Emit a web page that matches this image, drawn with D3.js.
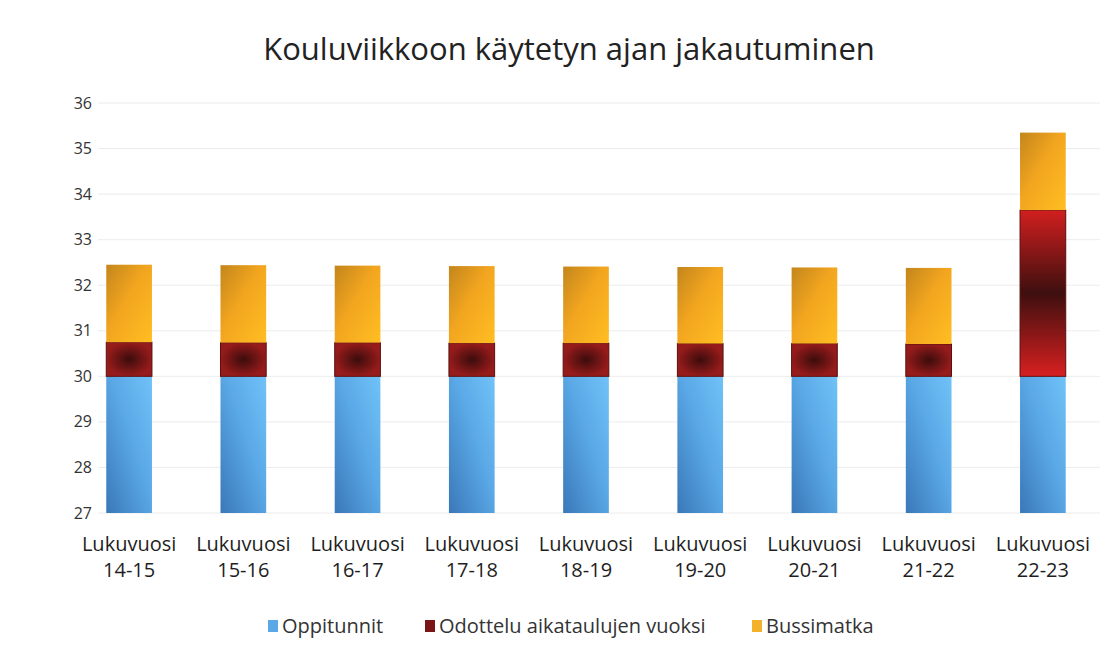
<!DOCTYPE html>
<html>
<head>
<meta charset="utf-8">
<script src="https://cdn.jsdelivr.net/npm/d3@7"></script>
<style>
  body { margin: 0; background: #fff; }
  svg { font-family: "Open Sans", "Liberation Sans", sans-serif; }
</style>
</head>
<body>
<div id="chart"></div>
<script>
var years = ["14-15", "15-16", "16-17", "17-18", "18-19", "19-20", "20-21", "21-22", "22-23"];
var oppitunnit = [30, 30, 30, 30, 30, 30, 30, 30, 30];
var odottelu = [0.75, 0.74, 0.74, 0.73, 0.73, 0.72, 0.72, 0.71, 3.65];
var bussimatka = [1.7, 1.7, 1.69, 1.69, 1.68, 1.68, 1.67, 1.67, 1.7];
var seriesNames = ["Oppitunnit", "Odottelu aikataulujen vuoksi", "Bussimatka"];
var yTicks = [27, 28, 29, 30, 31, 32, 33, 34, 35, 36];

var w = 1118, h = 657;
var svg = d3.select("#chart").append("svg").attr("width", w).attr("height", h);

// gradients
var defs = svg.append("defs");
var gBlue = defs.append("linearGradient").attr("id", "gBlue")
  .attr("x1", 0).attr("y1", 1).attr("x2", 1).attr("y2", 0);
gBlue.append("stop").attr("offset", "0%").attr("stop-color", "#3a78b8");
gBlue.append("stop").attr("offset", "55%").attr("stop-color", "#5aa8e6");
gBlue.append("stop").attr("offset", "100%").attr("stop-color", "#70c2f8");

var gYel = defs.append("linearGradient").attr("id", "gYel")
  .attr("x1", 0).attr("y1", 0).attr("x2", 1).attr("y2", 1);
gYel.append("stop").attr("offset", "0%").attr("stop-color", "#c3861c");
gYel.append("stop").attr("offset", "45%").attr("stop-color", "#f2a51f");
gYel.append("stop").attr("offset", "100%").attr("stop-color", "#ffbe22");

var gRedS = defs.append("radialGradient").attr("id", "gRedS");
gRedS.append("stop").attr("offset", "0%").attr("stop-color", "#3c0c0c");
gRedS.append("stop").attr("offset", "100%").attr("stop-color", "#961b1b");

var gRedL = defs.append("linearGradient").attr("id", "gRedL")
  .attr("x1", 0).attr("y1", 0).attr("x2", 0).attr("y2", 1);
gRedL.append("stop").attr("offset", "0%").attr("stop-color", "#d21f1f");
gRedL.append("stop").attr("offset", "50%").attr("stop-color", "#3e0f0f");
gRedL.append("stop").attr("offset", "100%").attr("stop-color", "#d82020");

var x = d3.scaleBand().domain(years).range([72, 1100]).paddingInner(0.6).paddingOuter(0.3);
var y = d3.scaleLinear().domain([27, 36]).range([513, 103]);

// gridlines
svg.append("g").selectAll("line").data(yTicks).enter().append("line")
  .attr("x1", 98).attr("x2", 1100)
  .attr("y1", function (d) { return y(d); }).attr("y2", function (d) { return y(d); })
  .attr("stroke", "#ececec").attr("stroke-width", 1);

// y labels
svg.append("g").selectAll("text").data(yTicks).enter().append("text")
  .attr("x", 92).attr("y", function (d) { return y(d); })
  .attr("dy", "0.35em").attr("text-anchor", "end")
  .attr("font-size", 16).attr("fill", "#333")
  .text(function (d) { return d; });

// stacked bars
var table = years.map(function (yr, i) {
  return { year: yr, o: oppitunnit[i], d: odottelu[i], b: bussimatka[i] };
});
var stack = d3.stack().keys(["o", "d", "b"])(table);
var fills = ["url(#gBlue)", null, "url(#gYel)"];

stack.forEach(function (layer, k) {
  svg.append("g").selectAll("rect").data(layer).enter().append("rect")
    .attr("x", function (d) { return x(d.data.year); })
    .attr("width", x.bandwidth())
    .attr("y", function (d) { return y(d[1]); })
    .attr("height", function (d) { return y(Math.max(d[0], 27)) - y(d[1]); })
    .attr("fill", function (d) {
      if (k === 1) return (y(d[0]) - y(d[1]) > 60) ? "url(#gRedL)" : "url(#gRedS)";
      return fills[k];
    })
    .attr("stroke", k === 1 ? "#5a1010" : "none")
    .attr("stroke-width", k === 1 ? 1 : 0);
});

// x labels
var xl = svg.append("g").selectAll("text").data(years).enter().append("text")
  .attr("x", function (d) { return x(d) + x.bandwidth() / 2; })
  .attr("y", 551).attr("text-anchor", "middle")
  .attr("font-size", 20).attr("fill", "#1e1e1e");
xl.append("tspan").attr("x", function (d) { return x(d) + x.bandwidth() / 2; }).text("Lukuvuosi");
xl.append("tspan").attr("x", function (d) { return x(d) + x.bandwidth() / 2; }).attr("dy", 26)
  .text(function (d) { return d; });

// title
svg.append("text").attr("x", 569).attr("y", 60).attr("text-anchor", "middle")
  .attr("font-size", 31).attr("fill", "#222")
  .text("Kouluviikkoon käytetyn ajan jakautuminen");

// legend
var legX = [268, 425, 752];
var legFill = ["#5aa8e6", "#7a1616", "#f4b12a"];
var leg = svg.append("g").selectAll("g").data(seriesNames).enter().append("g")
  .attr("transform", function (d, i) { return "translate(" + legX[i] + ",633)"; });
leg.append("rect").attr("x", 0).attr("y", -13).attr("width", 10).attr("height", 12)
  .attr("fill", function (d, i) { return legFill[i]; });
leg.append("text").attr("x", 14).attr("y", 0)
  .attr("font-size", 20).attr("fill", "#333")
  .text(function (d) { return d; });
</script>
</body>
</html>
